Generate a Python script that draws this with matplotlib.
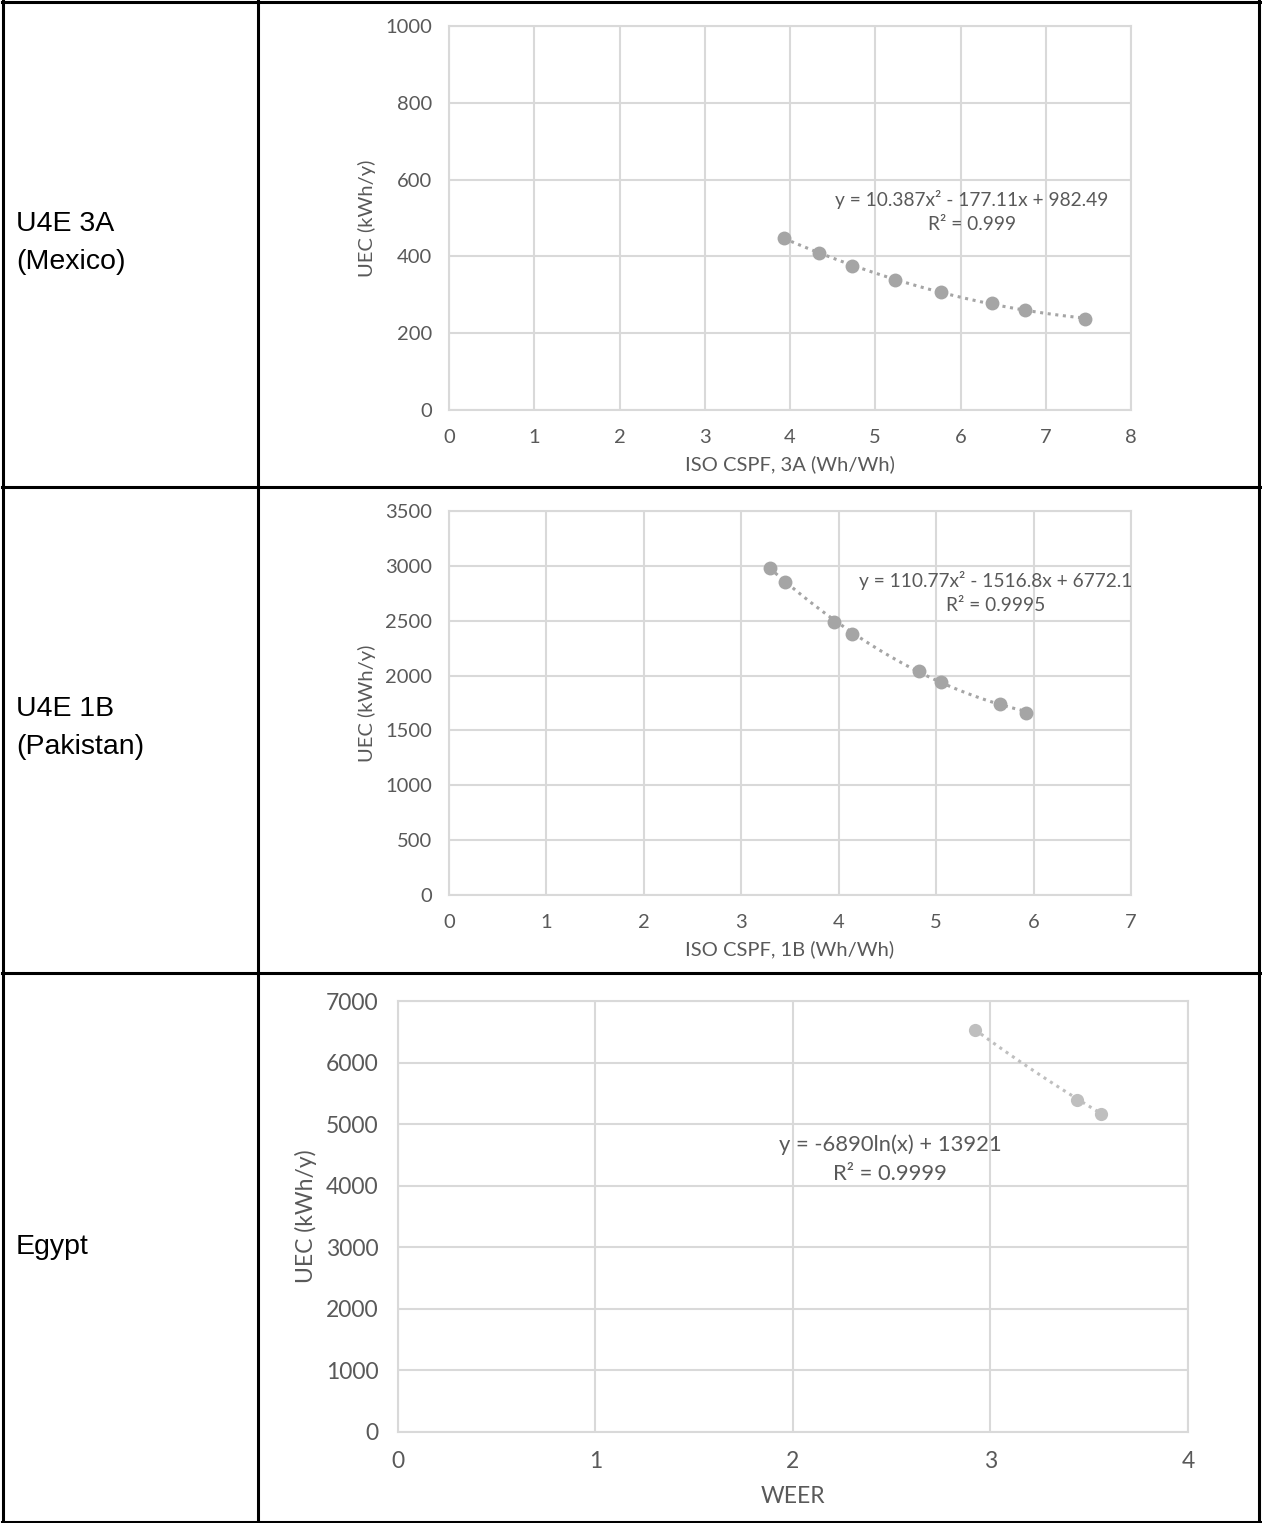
import numpy as np
import matplotlib
matplotlib.use("Agg")
import matplotlib.pyplot as plt
from matplotlib.lines import Line2D

# ---------------- data ----------------
row_labels = ["U4E 3A\n(Mexico)", "U4E 1B\n(Pakistan)", "Egypt"]

mex_x = [3.93, 4.34, 4.73, 5.23, 5.77, 6.37, 6.76, 7.46]
mex_y = [448, 409, 375, 339, 307, 279, 260, 237]
mex_coef = [10.387, -177.11, 982.49]
mex_eq = "y = 10.387x² - 177.11x + 982.49\nR² = 0.999"

pak_x = [3.29, 3.45, 3.95, 4.14, 4.82, 5.05, 5.66, 5.92]
pak_y = [2981, 2853, 2489, 2379, 2042, 1942, 1741, 1659]
pak_coef = [110.77, -1516.8, 6772.1]
pak_eq = "y = 110.77x² - 1516.8x + 6772.1\nR² = 0.9995"

egy_x = [2.92, 3.44, 3.56]
egy_y = [6530, 5400, 5170]
egy_coef = [-6890, 13921]  # y = a*ln(x) + b
egy_eq = "y = -6890ln(x) + 13921\nR² = 0.9999"

W, H = 1262, 1523
fig = plt.figure(figsize=(W / 100, H / 100), dpi=100)

def fx(px):
    return px / W

def fy(py):
    return 1 - py / H

TXT = "#595959"
GRID = "#d9d9d9"
CF = ["Lato", "DejaVu Sans"]

def style_axes(ax, fs, xlabel, ylabel, xpad, ypad, xlp, ylp):
    ax.grid(True, color=GRID, lw=1.5)
    ax.set_axisbelow(True)
    for s in ax.spines.values():
        s.set_color(GRID)
        s.set_linewidth(1.5)
    ax.tick_params(axis="x", length=0, labelsize=fs, colors=TXT, pad=xpad)
    ax.tick_params(axis="y", length=0, labelsize=fs, colors=TXT, pad=ypad)
    for lab in ax.get_xticklabels() + ax.get_yticklabels():
        lab.set_family(CF)
    ax.set_xlabel(xlabel, fontsize=fs, color=TXT, family=CF, labelpad=xlp)
    ax.set_ylabel(ylabel, fontsize=fs, color=TXT, family=CF, labelpad=ylp)

# ---------- chart 1 ----------
ax1 = fig.add_axes([fx(449), fy(410), fx(1131 - 449), (410 - 26) / H])
ax1.set_xlim(0, 8)
ax1.set_ylim(0, 1000)
ax1.set_xticks(range(0, 9))
ax1.set_yticks(range(0, 1001, 200))
xs = np.linspace(min(mex_x), max(mex_x), 100)
ax1.plot(xs, np.polyval(mex_coef, xs), ls=(0, (1, 1.5)), color="#a5a5a5", lw=2.2)
ax1.plot(mex_x, mex_y, "o", color="#a5a5a5", ms=10, mec="none")
ax1.text(0.767, 0.516, mex_eq, transform=ax1.transAxes, ha="center", va="center",
         fontsize=13.8, color=TXT, family=CF, linespacing=1.5)
style_axes(ax1, 14.5, "ISO CSPF, 3A (Wh/Wh)", "UEC (kWh/y)", 14, 12, 6, 7)

# ---------- chart 2 ----------
ax2 = fig.add_axes([fx(449), fy(895), fx(1131 - 449), (895 - 511) / H])
ax2.set_xlim(0, 7)
ax2.set_ylim(0, 3500)
ax2.set_xticks(range(0, 8))
ax2.set_yticks(range(0, 3501, 500))
xs = np.linspace(min(pak_x), max(pak_x), 100)
ax2.plot(xs, np.polyval(pak_coef, xs), ls=(0, (1, 1.5)), color="#a5a5a5", lw=2.2)
ax2.plot(pak_x, pak_y, "o", color="#a5a5a5", ms=10, mec="none")
ax2.text(0.802, 0.787, pak_eq, transform=ax2.transAxes, ha="center", va="center",
         fontsize=13.8, color=TXT, family=CF, linespacing=1.5)
style_axes(ax2, 14.5, "ISO CSPF, 1B (Wh/Wh)", "UEC (kWh/y)", 14, 12, 6, 7)

# ---------- chart 3 ----------
ax3 = fig.add_axes([fx(398), fy(1432), fx(1188 - 398), (1432 - 1001) / H])
ax3.set_xlim(0, 4)
ax3.set_ylim(0, 7000)
ax3.set_xticks(range(0, 5))
ax3.set_yticks(range(0, 7001, 1000))
xs = np.linspace(min(egy_x), max(egy_x), 100)
ax3.plot(xs, egy_coef[0] * np.log(xs) + egy_coef[1], ls=(0, (1, 1.5)), color="#bfbfbf", lw=2.2)
ax3.plot(egy_x, egy_y, "o", color="#bfbfbf", ms=9.5, mec="none")
ax3.text(0.623, 0.633, egy_eq, transform=ax3.transAxes, ha="center", va="center",
         fontsize=15.8, color=TXT, family=CF, linespacing=1.55)
style_axes(ax3, 16.5, "WEER", "UEC (kWh/y)", 14, 14, 10, 6)

# ---------- table text ----------
lab_y = [243, 728, 1247]
for t, y in zip(row_labels, lab_y):
    fig.text(fx(16), fy(y), t, ha="left", va="center", fontsize=20.5,
             family="Liberation Sans", color="black", linespacing=1.6)

# ---------- table lines ----------
lw = 2.2
def hline(y, x0=0, x1=W):
    fig.add_artist(Line2D([fx(x0), fx(x1)], [fy(y), fy(y)], color="black", lw=lw,
                          transform=fig.transFigure))
def vline(x, y0=0, y1=H):
    fig.add_artist(Line2D([fx(x), fx(x)], [fy(y0), fy(y1)], color="black", lw=lw,
                          transform=fig.transFigure))

hline(1.5, 2, 1260)
hline(487, 2, 1260)
hline(972.5, 2, 1260)
hline(1521.5, 2, 1260)
vline(2.5, 1, 1522)
vline(257.5, 1, 1522)
vline(1259, 1, 1522)

fig.savefig("out.png", dpi=100)
